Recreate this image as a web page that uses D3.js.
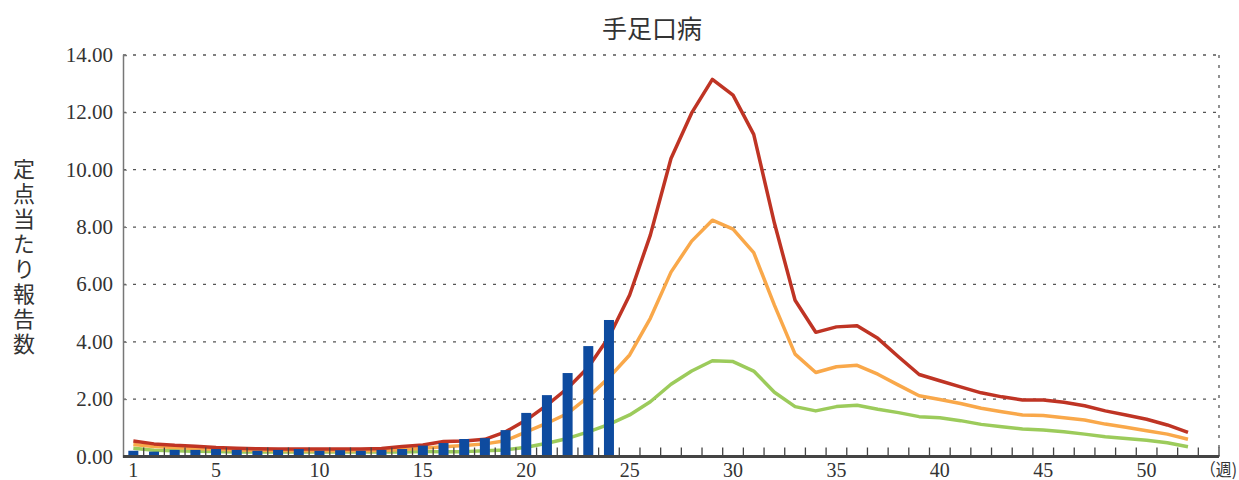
<!DOCTYPE html>
<html>
<head>
<meta charset="utf-8">
<script src="https://cdn.jsdelivr.net/npm/d3@7"></script>
<style>
  body { margin: 0; background: #fff; }
</style>
</head>
<body>
<div id="chart"></div>
<script>
// Weeks (categories), 53 slots so the axis ends one band after week 52
var weeks = [1,2,3,4,5,6,7,8,9,10,11,12,13,14,15,16,17,18,19,20,21,22,23,24,25,26,
             27,28,29,30,31,32,33,34,35,36,37,38,39,40,41,42,43,44,45,46,47,48,49,50,51,52,53];
var weekLabels = [1,5,10,15,20,25,30,35,40,45,50];
var yTicks = [0,2,4,6,8,10,12,14];

// This year (bars), weeks 1-24
var thisYear = [0.20,0.17,0.23,0.23,0.26,0.23,0.20,0.23,0.26,0.20,0.22,0.20,0.23,0.26,
                0.38,0.47,0.61,0.64,0.92,1.52,2.14,2.91,3.85,4.76];

// Past years lines, weeks 1-52
var redLine = [0.54,0.44,0.39,0.36,0.31,0.29,0.27,0.26,0.26,0.26,0.26,0.26,0.28,0.35,0.40,
               0.52,0.54,0.60,0.86,1.27,1.79,2.38,3.11,4.17,5.63,7.72,10.39,11.98,13.15,12.60,
               11.23,8.14,5.45,4.33,4.52,4.56,4.12,3.48,2.86,2.64,2.43,2.22,2.08,1.97,1.97,
               1.89,1.77,1.59,1.45,1.30,1.10,0.84];
var orangeLine = [0.42,0.35,0.31,0.28,0.25,0.23,0.22,0.21,0.20,0.20,0.20,0.20,0.21,0.24,0.29,
                  0.34,0.38,0.44,0.55,0.86,1.16,1.50,2.08,2.75,3.54,4.82,6.43,7.51,8.24,7.93,
                  7.11,5.28,3.57,2.93,3.13,3.18,2.87,2.49,2.12,1.99,1.85,1.68,1.56,1.45,1.43,
                  1.35,1.27,1.13,1.02,0.90,0.78,0.60];
var greenLine = [0.29,0.22,0.20,0.18,0.17,0.16,0.16,0.16,0.16,0.16,0.16,0.16,0.16,0.16,0.17,
                 0.17,0.17,0.20,0.23,0.32,0.46,0.63,0.86,1.12,1.45,1.91,2.52,2.98,3.34,3.31,
                 2.98,2.24,1.74,1.59,1.74,1.79,1.65,1.53,1.39,1.35,1.25,1.12,1.04,0.96,0.92,
                 0.86,0.78,0.69,0.63,0.57,0.48,0.34];

var W = 1239, H = 480;
// plot box (not named "top": that is window.top)
var plotLeft = 123, plotRight = 1219, plotTop = 55, plotBottom = 456.5;

var svg = d3.select("#chart").append("svg")
            .attr("width", W)
            .attr("height", H);

var x = d3.scaleBand()
          .domain(weeks)
          .range([plotLeft, plotRight])
          .padding(0);

var y = d3.scaleLinear()
          .domain([0, 14])
          .range([plotBottom, plotTop]);

// Dotted grid lines
svg.append("g")
    .selectAll("line")
    .data(yTicks.filter(function(d) { return d > 0; }))
    .enter().append("line")
        .attr("x1", plotLeft)
        .attr("x2", plotRight)
        .attr("y1", function(d) { return y(d); })
        .attr("y2", function(d) { return y(d); })
        .attr("stroke", "#555")
        .attr("stroke-width", 1.3)
        .attr("stroke-dasharray", "3,7");

// Right border (dotted)
svg.append("line")
    .attr("x1", plotRight).attr("x2", plotRight)
    .attr("y1", plotTop).attr("y2", plotBottom)
    .attr("stroke", "#555")
    .attr("stroke-width", 1.3)
    .attr("stroke-dasharray", "3,7");

// Y axis
var yAxis = svg.append("g")
    .attr("transform", "translate(" + plotLeft + ",0)")
    .call(d3.axisRight(y).tickValues(yTicks).tickSize(4).tickFormat(""));
yAxis.select(".domain").attr("stroke", "#777").attr("stroke-width", 1.5);
yAxis.selectAll(".tick line").attr("stroke", "#777");

svg.append("g")
    .selectAll("text")
    .data(yTicks)
    .enter().append("text")
        .attr("x", plotLeft - 10)
        .attr("y", function(d) { return y(d) + 7; })
        .attr("text-anchor", "end")
        .attr("font-family", "Liberation Serif, serif")
        .attr("font-size", 21)
        .attr("fill", "#333")
        .text(function(d) { return d3.format(".2f")(d); });

// Lines
var line = d3.line()
    .x(function(d, i) { return x(weeks[i]) + x.bandwidth() / 2; })
    .y(function(d) { return y(d); });

var series = [
    {values: greenLine, color: "#9ccb5b"},
    {values: orangeLine, color: "#f9a84a"},
    {values: redLine, color: "#bf3424"}
];

svg.append("g")
    .selectAll("path")
    .data(series)
    .enter().append("path")
        .attr("d", function(d) { return line(d.values); })
        .attr("fill", "none")
        .attr("stroke", function(d) { return d.color; })
        .attr("stroke-width", 3.5)
        .attr("stroke-linejoin", "round");

// Bars for this year
var barW = 10;
svg.append("g")
    .selectAll("rect")
    .data(thisYear)
    .enter().append("rect")
        .attr("x", function(d, i) { return x(weeks[i]) + x.bandwidth() / 2 - barW / 2; })
        .attr("y", function(d) { return y(d); })
        .attr("width", barW)
        .attr("height", function(d) { return plotBottom - y(d); })
        .attr("fill", "#0e4b9f");

// X axis with ticks between weeks
var xAxis = svg.append("g")
    .attr("transform", "translate(0," + plotBottom + ")");
xAxis.selectAll("line")
    .data(weeks)
    .enter().append("line")
        .attr("x1", function(d) { return x(d) + x.bandwidth(); })
        .attr("x2", function(d) { return x(d) + x.bandwidth(); })
        .attr("y1", 0)
        .attr("y2", -9)
        .attr("stroke", "#444")
        .attr("stroke-width", 1.3);
xAxis.append("line")
    .attr("x1", plotLeft)
    .attr("x2", plotRight)
    .attr("y1", 0)
    .attr("y2", 0)
    .attr("stroke", "#444")
    .attr("stroke-width", 3);

xAxis.selectAll("text")
    .data(weekLabels)
    .enter().append("text")
        .attr("x", function(d) { return x(d) + x.bandwidth() / 2; })
        .attr("y", 20)
        .attr("text-anchor", "middle")
        .attr("font-family", "Liberation Serif, serif")
        .attr("font-size", 20)
        .attr("fill", "#333")
        .text(function(d) { return d; });

svg.append("text")
    .attr("x", 1200)
    .attr("y", plotBottom + 19)
    .attr("font-family", "Noto Sans CJK JP, Liberation Serif, serif")
    .attr("font-size", 17)
    .attr("textLength", 37)
    .attr("lengthAdjust", "spacingAndGlyphs")
    .attr("fill", "#333")
    .text("（週)");

// Title
svg.append("text")
    .attr("x", 652)
    .attr("y", 38)
    .attr("text-anchor", "middle")
    .attr("font-family", "Noto Sans CJK JP, sans-serif")
    .attr("font-size", 25)
    .attr("fill", "#333")
    .text("手足口病");

// Vertical Y label
svg.append("text")
    .attr("x", 24)
    .attr("y", 158)
    .attr("font-family", "Noto Sans CJK JP, sans-serif")
    .attr("font-size", 22)
    .attr("fill", "#333")
    .style("writing-mode", "vertical-rl")
    .style("text-orientation", "upright")
    .style("letter-spacing", "3px")
    .text("定点当たり報告数");
</script>
</body>
</html>
